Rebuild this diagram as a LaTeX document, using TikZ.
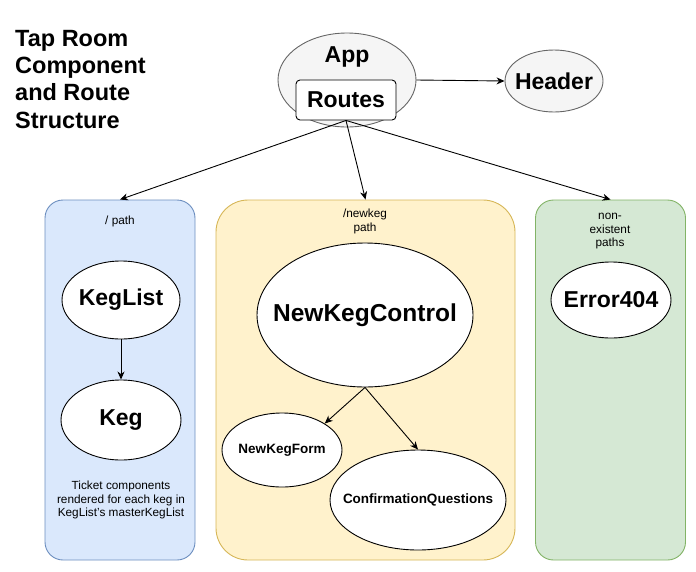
\documentclass[tikz,border=0pt]{standalone}
\usepackage{fontspec}
\setmainfont{Liberation Sans}
\usetikzlibrary{shapes.geometric,arrows.meta}
\definecolor{gfill}{HTML}{F5F5F5}
\definecolor{gline}{HTML}{666666}
\definecolor{bfill}{HTML}{DAE8FC}
\definecolor{bline}{HTML}{6C8EBF}
\definecolor{yfill}{HTML}{FFF2CC}
\definecolor{yline}{HTML}{D6B656}
\definecolor{gnfill}{HTML}{D5E8D4}
\definecolor{gnline}{HTML}{82B366}
\begin{document}
\begin{tikzpicture}[x=1pt,y=-1pt,
  ell/.style={ellipse,draw=black,fill=white,line width=0.9pt,inner sep=0pt},
  grayell/.style={ellipse,draw=gline,fill=gfill,line width=0.9pt,inner sep=0pt},
  big/.style={font=\fontsize{23}{26}\selectfont\bfseries},
  huge/.style={font=\fontsize{24.5}{28}\selectfont\bfseries},
  mid/.style={font=\fontsize{13.5}{16}\selectfont\bfseries},
  small/.style={font=\fontsize{11.8}{13.5}\selectfont,align=center,inner sep=0pt},
  panel/.style={rectangle,line width=0.9pt,minimum height=360pt},
  arr/.style={line width=0.9pt,-{Stealth[length=8pt,width=7pt,inset=2.5pt]}}]
\useasboundingbox (0,0) rectangle (696,571);

\node[anchor=north west,align=left,inner sep=0pt,
      font=\fontsize{23.5}{27.3}\selectfont\bfseries] (title) at (15,30)
  {Tap Room\\Component\\and Route\\Structure};

% panels
\node[panel,fill=bfill,draw=bline,minimum width=150pt,rounded corners=18pt] (pleft) at (120,380) {};
\node[panel,fill=yfill,draw=yline,minimum width=299pt,rounded corners=32pt] (pmid) at (365.5,380) {};
\node[panel,fill=gnfill,draw=gnline,minimum width=150pt,rounded corners=18pt] (pright) at (610.5,380) {};

% top
\node[grayell,minimum width=138pt,minimum height=94pt] (app) at (347,80) {};
\node[big,inner sep=0pt] (applabel) at (347,57) {App};
\node[rectangle,draw=black,fill=white,line width=0.9pt,rounded corners=4pt,
      minimum width=100pt,minimum height=40pt,big,inner sep=0pt] (routes) at (346,100) {Routes};
\node[grayell,minimum width=98pt,minimum height=62pt,
      label={[big]center:Header}] (header) at (554,81) {};

% left panel
\node[small] (lpath) at (120,221) {/ path};
\node[ell,minimum width=118pt,minimum height=78pt,
      label={[big]center:KegList}] (keglist) at (121,300) {};
\node[ell,minimum width=120pt,minimum height=80pt,
      label={[big]center:Keg}] (keg) at (121,420) {};
\node[small] (ticket) at (121,500) {Ticket components\\rendered for each keg in\\KegList's masterKegList};

% middle panel
\node[small] (mpath) at (365,221.5) {/newkeg\\path};
\node[ell,minimum width=216pt,minimum height=144pt,
      label={[huge]center:NewKegControl}] (nkc) at (365,315) {};
\node[ell,minimum width=120pt,minimum height=74pt,
      label={[mid]center:NewKegForm}] (nkf) at (282,450) {};
\node[ell,minimum width=176pt,minimum height=100pt,
      label={[mid]center:ConfirmationQuestions}] (cq) at (418,500) {};

% right panel
\node[small] (rpath) at (610,231.5) {non-\\existent\\paths};
\node[ell,minimum width=120pt,minimum height=76pt,
      label={[big]center:Error404}] (err) at (611,300) {};

% connectors
\draw[arr] (app.east) -- (header.west);
\draw[arr] (routes.south) -- (pleft.north);
\draw[arr] (routes.south) -- (pmid.north);
\draw[arr] (routes.south) -- (pright.north);
\draw[arr] (keglist.south) -- (keg.north);
\draw[arr] (nkc.south) -- (nkf.north east);
\draw[arr] (nkc.south) -- (cq.north);
\end{tikzpicture}
\end{document}
